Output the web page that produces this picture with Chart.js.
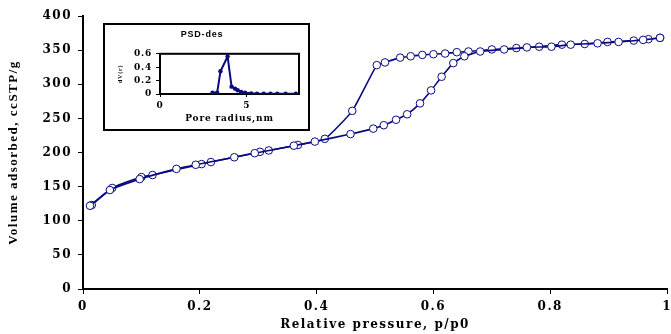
<!DOCTYPE html>
<html>
<head>
<meta charset="utf-8">
<script src="https://cdn.jsdelivr.net/npm/chart.js@4"></script>
<style>
body{margin:0;overflow:hidden;background:#fff;}
#wrap{position:relative;width:671px;height:334px;overflow:hidden;}
#main{position:absolute;left:0;top:0;}
#inset{position:absolute;left:103px;top:23px;width:203px;height:104px;border:2px solid #000;background:#fff;}
#psd{display:block;}
</style>
</head>
<body>
<div id="wrap">
<canvas id="main" width="678" height="334"></canvas>
<div id="inset"><canvas id="psd" width="203" height="104"></canvas></div>
</div>
<script>
// isotherm, adsorption branch
var adsX = [0.012,0.046,0.097,0.160,0.193,0.259,0.294,0.361,0.397,0.458,0.497,0.515,0.536,0.555,0.577,0.596,0.614,0.634,0.653,0.680,0.721,0.760,0.802,0.835,0.881,0.917,0.959,0.988];
var adsY = [122,145,161,176,182,193,199,210,216,227,235,240,248,256,272,291,311,331,341,348,351,354,355,358,360,362,365,368];
// desorption branch
var desX = [0.015,0.050,0.100,0.119,0.203,0.219,0.303,0.318,0.368,0.414,0.461,0.503,0.517,0.543,0.561,0.581,0.600,0.620,0.640,0.660,0.700,0.742,0.781,0.820,0.859,0.898,0.943,0.968,0.988];
var desY = [123,148,164,167,183,186,201,203,211,220,261,328,332,339,341,343,344,345,347,348,351,353,355,358,359,362,364,366,368];
// inset PSD
var psdX = [3.02,3.29,3.48,3.89,4.12,4.32,4.47,4.67,4.90,5.25,5.58,5.97,6.36,6.75,7.23,7.82];
var psdY = [0.02,0.02,0.34,0.56,0.11,0.08,0.056,0.03,0.02,0.01,0.005,0.005,0.005,0.005,0.005,0.005];

var xTicks = [0,0.2,0.4,0.6,0.8,1];
var yTicks = [0,50,100,150,200,250,300,350,400];
var psdXTicks = [0,5];
var psdYTicks = [0,0.2,0.4,0.6];

var navy = '#0a0a80';

function pts(xs, ys){
  var out = [];
  for(var i=0;i<xs.length;i++){ out.push({x:xs[i], y:ys[i]}); }
  return out;
}

function spacing(px){
  return {
    id:'spacing',
    beforeUpdate:function(chart){ chart.ctx.letterSpacing = px; },
    beforeDraw:function(chart){ chart.ctx.letterSpacing = px; }
  };
}

function fixTicks(list){
  return function(s){ s.ticks = list.map(function(v){return {value:v};}); };
}

function fmt(v){ return String(+(+v).toFixed(1)); }

var serif = {family:'DejaVu Serif', weight:'bold', size:12};

function isoSet(xs, ys){
  return {
    data: pts(xs, ys),
    showLine:true,
    borderColor:navy,
    borderWidth:1.6,
    tension:0.15,
    pointRadius:3.8,
    pointBackgroundColor:'#fff',
    pointBorderColor:navy,
    pointBorderWidth:1
  };
}

new Chart(document.getElementById('main'), {
  type:'scatter',
  data:{ datasets:[ isoSet(adsX, adsY), isoSet(desX, desY) ] },
  options:{
    responsive:false,
    animation:false,
    layout:{padding:{top:16,right:0,left:0,bottom:0}},
    plugins:{legend:{display:false}, tooltip:{enabled:false}},
    scales:{
      x:{
        type:'linear', min:0, max:1,
        afterBuildTicks:fixTicks(xTicks),
        ticks:{color:'#000', font:serif, padding:6, maxRotation:0, autoSkip:false, callback:fmt},
        grid:{drawOnChartArea:false, drawTicks:true, tickLength:5, color:'#000', lineWidth:1},
        border:{color:'#000', width:2},
        title:{display:true, text:'Relative pressure, p/p0', color:'#000', font:serif, padding:{top:0,bottom:2}},
        afterFit:function(s){ s.height = 45; }
      },
      y:{
        min:0, max:400,
        afterBuildTicks:fixTicks(yTicks),
        ticks:{color:'#000', font:serif, padding:6, autoSkip:false},
        grid:{drawOnChartArea:false, drawTicks:true, tickLength:5, color:'#000', lineWidth:1},
        border:{color:'#000', width:2},
        title:{display:true, text:'Volume adsorbed, ccSTP/g', color:'#000',
          font:{family:'Liberation Serif', weight:'bold', size:13}, padding:{top:6,bottom:0}},
        afterFit:function(s){ s.width = 83; }
      }
    }
  },
  plugins:[spacing('1.5px')]
});

var boxPlugin = {
  id:'box',
  beforeDatasetsDraw:function(chart){
    var a = chart.chartArea, c = chart.ctx;
    c.save();
    c.strokeStyle = '#000';
    c.lineWidth = 2;
    c.strokeRect(a.left, a.top, a.right - a.left, a.bottom - a.top);
    c.restore();
  }
};

var small = {family:'DejaVu Serif', weight:'bold', size:9};

new Chart(document.getElementById('psd'), {
  type:'scatter',
  data:{ datasets:[{
    data: pts(psdX, psdY),
    showLine:true,
    borderColor:navy,
    borderWidth:2,
    tension:0,
    pointRadius:2.2,
    pointBackgroundColor:navy,
    pointBorderColor:navy,
    pointBorderWidth:0
  }]},
  options:{
    responsive:false,
    animation:false,
    layout:{padding:{top:0,right:9,left:0,bottom:0}},
    plugins:{
      legend:{display:false}, tooltip:{enabled:false},
      title:{display:true, text:'PSD-des', color:'#000',
        font:{family:'Liberation Sans', weight:'bold', size:9}, padding:{top:4,bottom:14}}
    },
    scales:{
      x:{
        type:'linear', min:0, max:8,
        afterBuildTicks:fixTicks(psdXTicks),
        ticks:{color:'#000', font:small, padding:3, maxRotation:0, autoSkip:false},
        grid:{drawOnChartArea:false, drawTicks:true, tickLength:3, color:'#000'},
        border:{color:'#000', width:2},
        title:{display:true, text:'Pore radius,nm', color:'#000', font:small, padding:{top:0,bottom:5}},
        afterFit:function(s){ s.height = 35; }
      },
      y:{
        min:0, max:0.6,
        afterBuildTicks:fixTicks(psdYTicks),
        ticks:{color:'#000', font:small, padding:4, autoSkip:false, callback:fmt},
        grid:{drawOnChartArea:false, drawTicks:true, tickLength:4, color:'#000'},
        border:{color:'#000', width:2},
        title:{display:true, text:'dV(r)', color:'#000',
          font:{family:'Liberation Serif', weight:'bold', size:6}, padding:{top:12,bottom:0}},
        afterFit:function(s){ s.width = 55; }
      }
    }
  },
  plugins:[spacing('0.8px'), boxPlugin]
});
</script>
</body>
</html>
